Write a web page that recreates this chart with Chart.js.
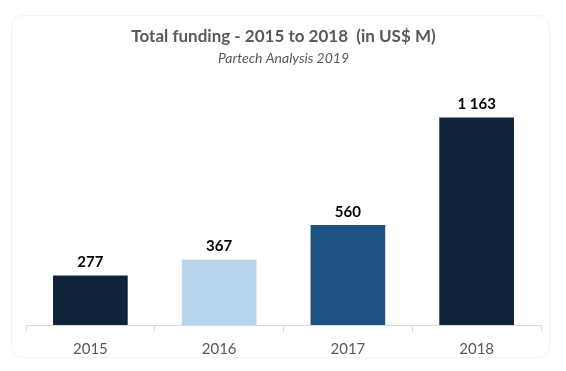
<!DOCTYPE html>
<html>
<head>
<meta charset="utf-8">
<script src="https://cdn.jsdelivr.net/npm/chart.js@4/dist/chart.umd.min.js"></script>
<style>
  html, body { margin: 0; padding: 0; background: #fff; }
  #wrap { position: relative; width: 566px; height: 371px; }
  #card {
    position: absolute; left: 11px; top: 15px; width: 539px; height: 343px;
    border: 1px solid #f3f3f3; border-radius: 12px; box-sizing: border-box;
  }
  canvas { position: absolute; left: 0; top: 0; }
</style>
</head>
<body>
<div id="wrap">
  <div id="card"></div>
  <canvas id="fundingChart" width="566" height="371"></canvas>
</div>
<script>
const years = ['2015', '2016', '2017', '2018']
const funding = [277, 367, 560, 1163]
const barColors = ['#10233a', '#b8d3ec', '#1f5183', '#10233a']

const fmt = v => String(v).replace(/\B(?=(\d{3})+(?!\d))/g, ' ')

// valeurs au-dessus des barres
const valueLabels = {
    id: 'valueLabels',
    afterDatasetsDraw(chart) {
        const ctx = chart.ctx
        const meta = chart.getDatasetMeta(0)
        ctx.save()
        ctx.font = 'bold 15px Lato'
        ctx.fillStyle = '#000'
        ctx.textAlign = 'center'
        ctx.textBaseline = 'middle'
        meta.data.forEach((bar, i) => {
            ctx.fillText(fmt(funding[i]), bar.x, bar.y - 13)
        })
        ctx.restore()
    }
}

const ctx = document.getElementById('fundingChart').getContext('2d')

new Chart(ctx, {
    type: 'bar',
    data: {
        labels: years,
        datasets: [{
            data: funding,
            backgroundColor: barColors,
            barPercentage: 0.58,
            categoryPercentage: 1.0
        }]
    },
    options: {
        responsive: false,
        animation: false,
        layout: { padding: { left: 26, right: 25, top: 26, bottom: 5 } },
        scales: {
            x: {
                offset: true,
                border: { color: '#d9d9d9', width: 1 },
                grid: { display: true, drawOnChartArea: false, offset: true, color: '#d9d9d9', tickLength: 7 },
                ticks: { color: '#595959', font: { family: 'Lato', size: 15 }, padding: 8 }
            },
            y: {
                display: false,
                min: 0,
                max: 1333
            }
        },
        plugins: {
            legend: { display: false },
            tooltip: { enabled: false },
            title: {
                display: true,
                text: 'Total funding - 2015 to 2018  (in US$ M)',
                color: '#595959',
                font: { family: 'Lato', size: 17, weight: 'bold' },
                padding: { top: 0, bottom: 4 }
            },
            subtitle: {
                display: true,
                text: 'Partech Analysis 2019',
                color: '#595959',
                font: { family: 'Lato', size: 14, style: 'italic' },
                padding: { top: 0, bottom: 20 }
            }
        }
    },
    plugins: [valueLabels]
})
</script>
</body>
</html>
